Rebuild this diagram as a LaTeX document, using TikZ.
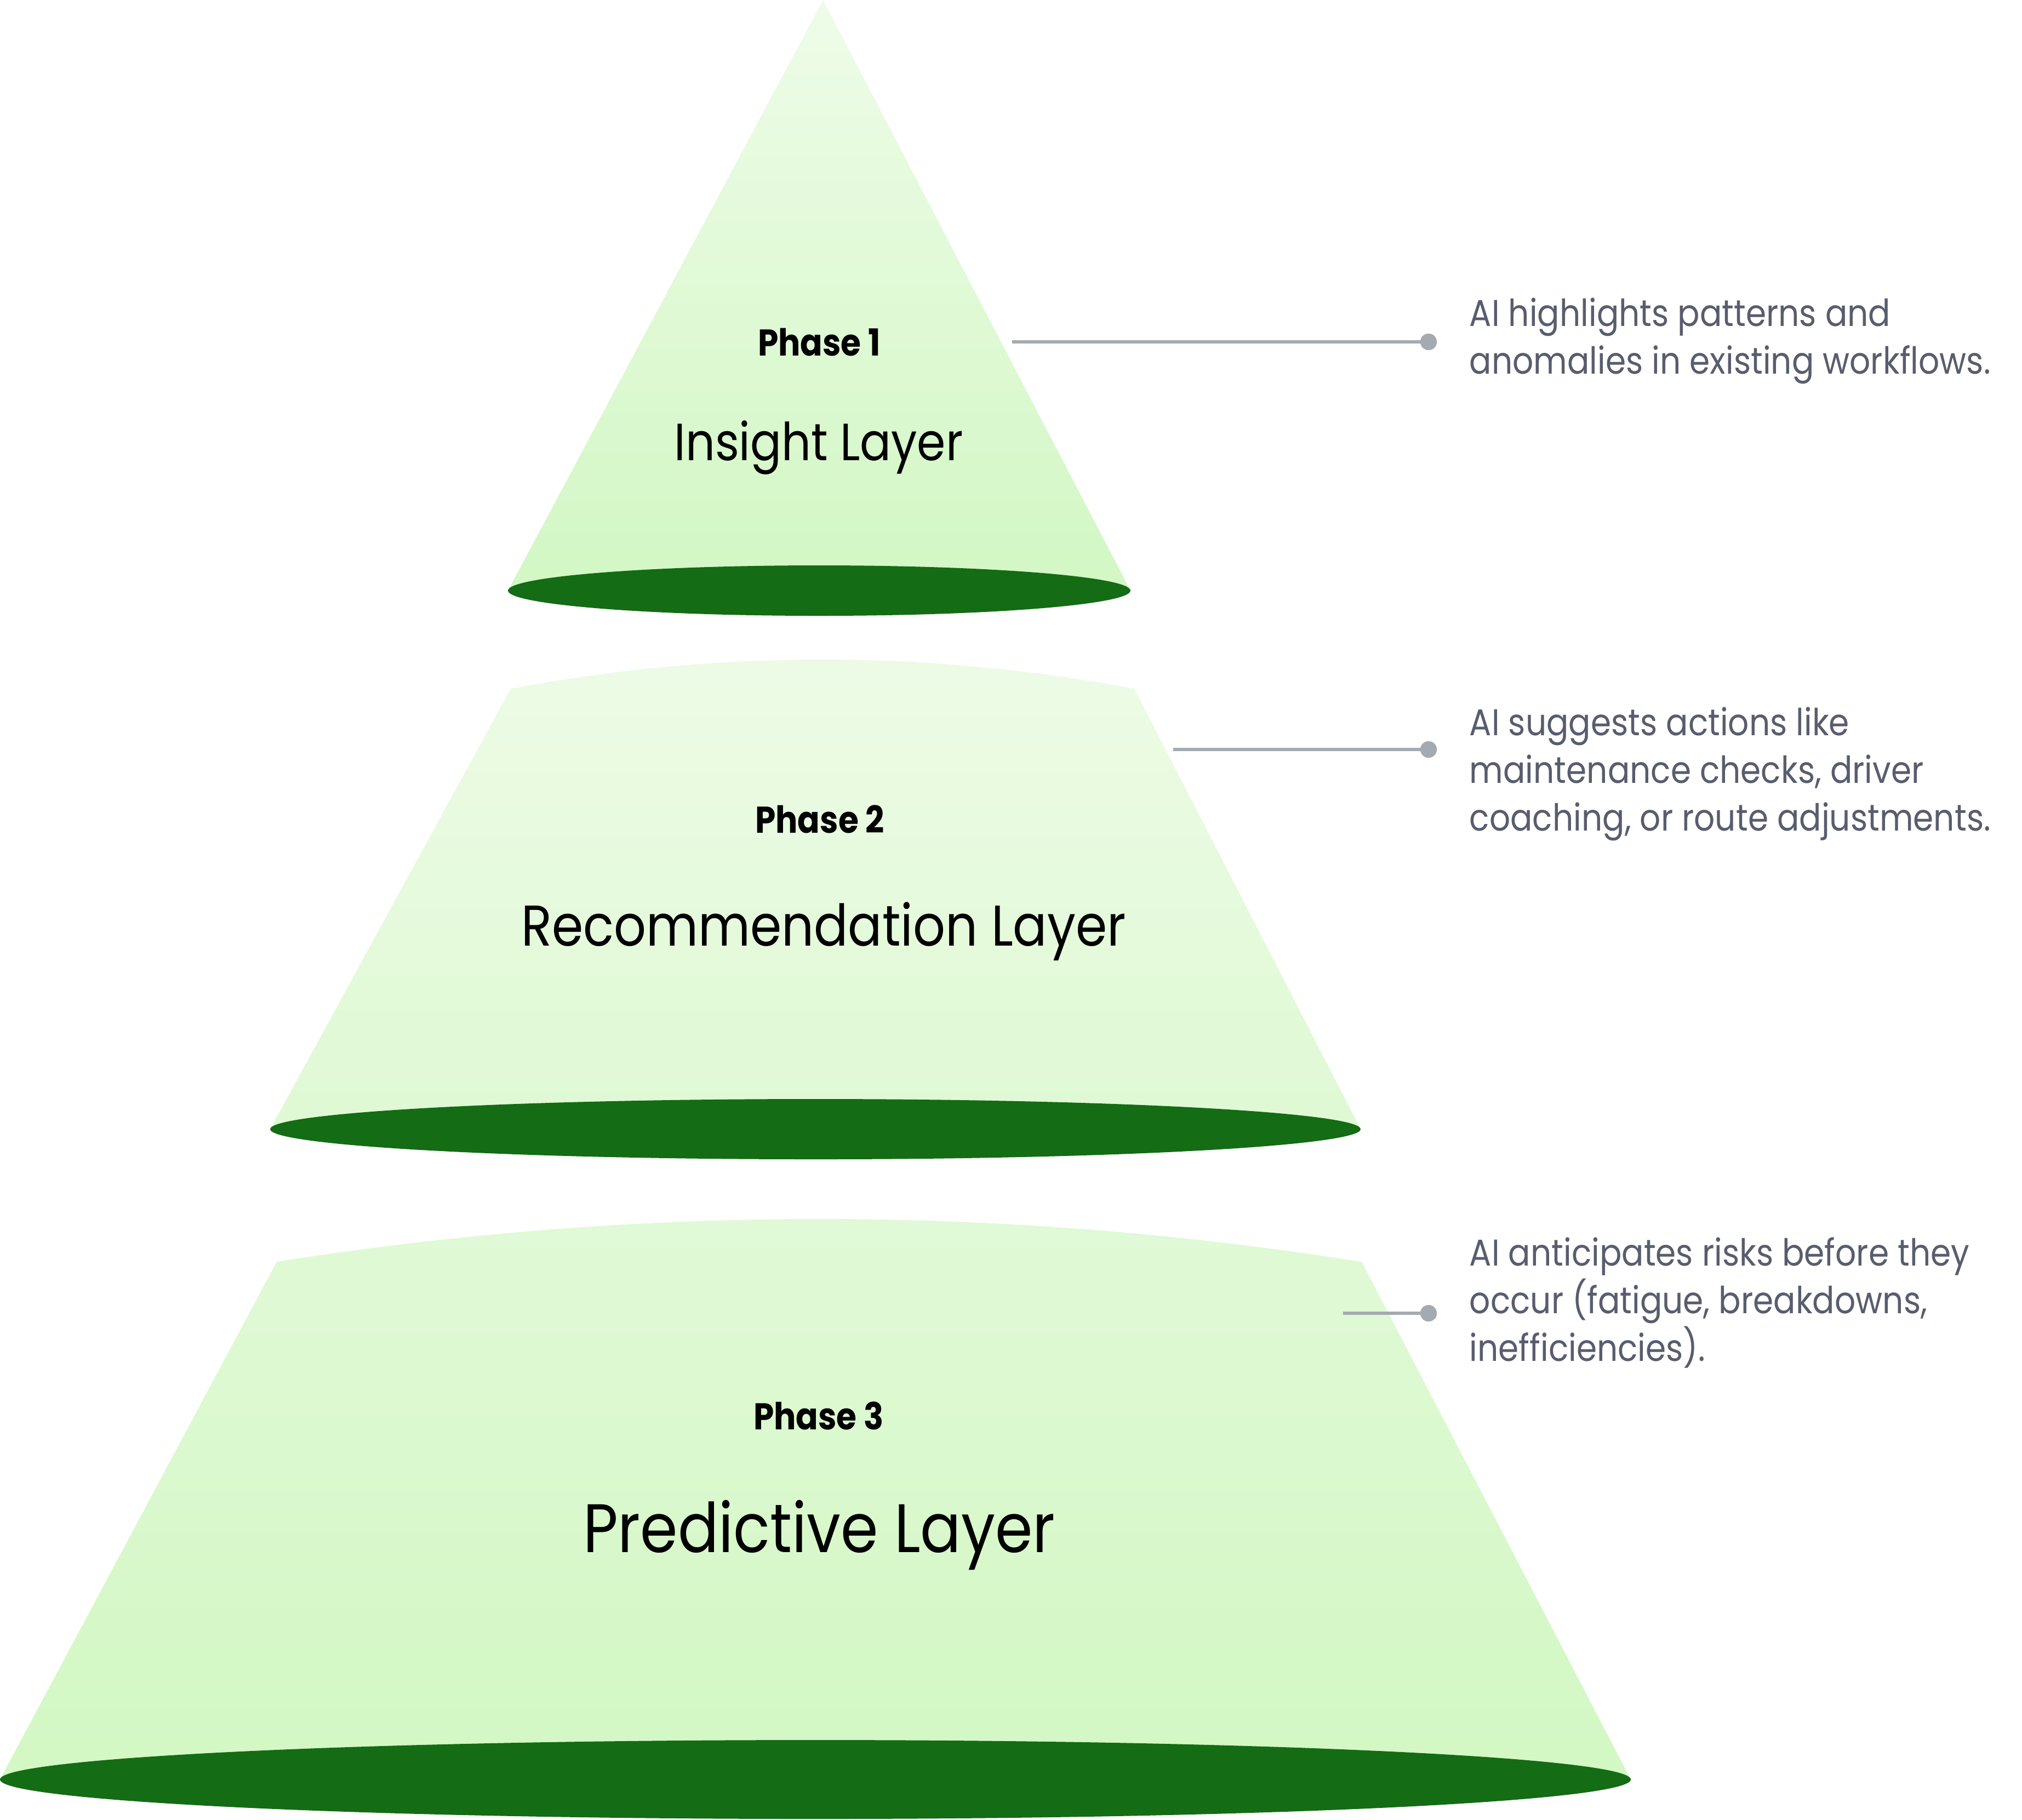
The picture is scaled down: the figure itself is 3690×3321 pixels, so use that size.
\documentclass[tikz,border=0pt]{standalone}
\usepackage{fontspec}
\setmainfont[FakeStretch=0.88]{Poppins}
\definecolor{ellgreen}{RGB}{20,108,20}
\definecolor{lAtop}{RGB}{238,252,232}
\definecolor{lAbot}{RGB}{210,247,196}
\definecolor{lBtop}{RGB}{237,251,230}
\definecolor{lBbot}{RGB}{223,249,212}
\definecolor{lCtop}{RGB}{225,249,215}
\definecolor{lCbot}{RGB}{210,248,195}
\definecolor{desccol}{RGB}{88,93,110}
\definecolor{conncol}{RGB}{164,170,177}
\tikzset{
  basedisc/.style={fill=ellgreen},
  phaselbl/.style={anchor=base, inner sep=0, font=\fontsize{17}{20}\selectfont\bfseries, text=black},
  titlelbl/.style={anchor=base, inner sep=0, text=black},
  desclbl/.style={anchor=base west, inner sep=0, text=desccol},
  conn/.style={draw=conncol, line width=1.5pt},
  dotnode/.style={circle, fill=conncol, minimum size=7.5pt, inner sep=0}
}
\newcommand{\desctext}[1]{\parbox[t]{300pt}{\fontsize{17}{21.75}\selectfont\raggedright #1}}
\begin{document}
\begin{tikzpicture}[x=0.25pt,y=-0.25pt]
\useasboundingbox (0,0) rectangle (3690,3321);
% layer 1
\shade[top color=lAtop, bottom color=lAbot] (1502,0) -- (2063,1078) -- (927,1078) -- cycle;
\fill[basedisc] (1495,1078) ellipse [x radius=568, y radius=46];
% layer 2
\shade[top color=lBtop, bottom color=lBbot] (932,1257) .. controls (1311,1186) and (1690,1186) .. (2070,1257) -- (2483,2061) -- (493,2061) -- cycle;
\fill[basedisc] (1488,2061) ellipse [x radius=995, y radius=55];
% layer 3
\shade[top color=lCtop, bottom color=lCbot] (505,2303) .. controls (1165,2199) and (1825,2199) .. (2485,2303) -- (2976,3248) -- (0,3248) -- cycle;
\fill[basedisc] (1488,3248) ellipse [x radius=1488, y radius=72];
% labels
\node[phaselbl] (p1) at (1495,649) {Phase 1};
\node[titlelbl, font=\fontsize{23.9}{28}\selectfont] (t1) at (1494,840) {Insight Layer};
\node[phaselbl] (p2) at (1496,1520) {Phase 2};
\node[titlelbl, font=\fontsize{26.2}{30}\selectfont] (t2) at (1503,1726) {Recommendation Layer};
\node[phaselbl] (p3) at (1494,2609) {Phase 3};
\node[titlelbl, font=\fontsize{31.3}{34}\selectfont] (t3) at (1495,2833) {Predictive Layer};
% connectors
\coordinate (s1) at (1847,624);
\coordinate (s2) at (2141,1368);
\coordinate (s3) at (2451,2397);
\node[dotnode] (d1) at (2607,624) {};
\node[dotnode] (d2) at (2607,1368) {};
\node[dotnode] (d3) at (2607,2397) {};
\draw[conn] (s1) -- (d1.center);
\draw[conn] (s2) -- (d2.center);
\draw[conn] (s3) -- (d3.center);
\node[dotnode] at (d1) {};
\node[dotnode] at (d2) {};
\node[dotnode] at (d3) {};
% descriptions
\node[desclbl] (x1) at (2681,595) {\desctext{AI highlights patterns and\\anomalies in existing workflows.}};
\node[desclbl] (x2) at (2681,1342) {\desctext{AI suggests actions like\\maintenance checks, driver\\coaching, or route adjustments.}};
\node[desclbl] (x3) at (2681,2310) {\desctext{AI anticipates risks before they\\occur (fatigue, breakdowns,\\inefficiencies).}};
\end{tikzpicture}
\end{document}
